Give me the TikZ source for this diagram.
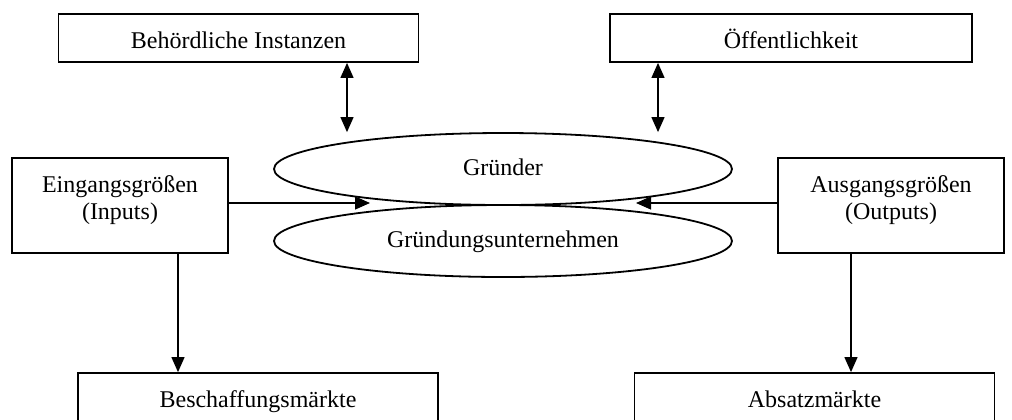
\documentclass[tikz,border=0pt]{standalone}
\usepackage{fontspec}
\setmainfont{Liberation Serif}
\usetikzlibrary{arrows.meta, shapes.geometric}

\begin{document}
\begin{tikzpicture}[x = 0.5pt, y = -0.5pt,
            every node/.style = {draw, line width = 0.9pt, inner sep = 0pt,
                font = \fontsize{12}{13.5}\selectfont},
            box/.style = {rectangle, minimum width = 180pt, minimum height = 24pt,
                text height = 12pt, text depth = 2pt},
            io/.style = {rectangle, align = center, minimum height = 47.5pt,
                text height = 18pt, text depth = 4.5pt},
            oval/.style = {ellipse, minimum width = 229pt, minimum height = 36pt,
                text height = 9pt, text depth = 3pt},
            link/.style = {line width = 0.6pt, -{Triangle[length = 7.5pt, width = 6.5pt]}},
            both/.style = {line width = 0.6pt,
                {Triangle[length = 7.5pt, width = 6.5pt]}-{Triangle[length = 7.5pt, width = 6.5pt]}}]
            \useasboundingbox (0,0) rectangle (1012,419);
            \node[box] (beh) at (238.5,38) {Behördliche Instanzen};
            \node[box, minimum width = 181pt] (oef) at (791,38) {Öffentlichkeit};
            \node[oval] (gr) at (503,169) {Gründer};
            \node[oval] (gu) at (503,241) {Gründungsunternehmen};
            \node[io, minimum width = 108pt] (ein) at (120,205.5) {Eingangsgrößen\\(Inputs)};
            \node[io, minimum width = 113pt] (aus) at (891,205.5) {Ausgangsgrößen\\(Outputs)};
            \node[box] (bes) at (258,397) {Beschaffungsmärkte};
            \node[box] (abs) at (814.5,397) {Absatzmärkte};
            \coordinate (inL) at (370,203);
            \coordinate (inR) at (636,203);
            \draw[both] ([xshift = 54.25pt]beh.south) -- ([xshift = 54.25pt]beh.south |- gr.north);
            \draw[both] ([xshift = -66.5pt]oef.south) -- ([xshift = -66.5pt]oef.south |- gr.north);
            \draw[link] (ein.east |- inL) -- (inL);
            \draw[link] (aus.west |- inR) -- (inR);
            \draw[link] ([xshift = 29pt]ein.south) -- ([xshift = 29pt]ein.south |- bes.north);
            \draw[link] ([xshift = -20pt]aus.south) -- ([xshift = -20pt]aus.south |- abs.north);
        \end{tikzpicture}
\end{document}
